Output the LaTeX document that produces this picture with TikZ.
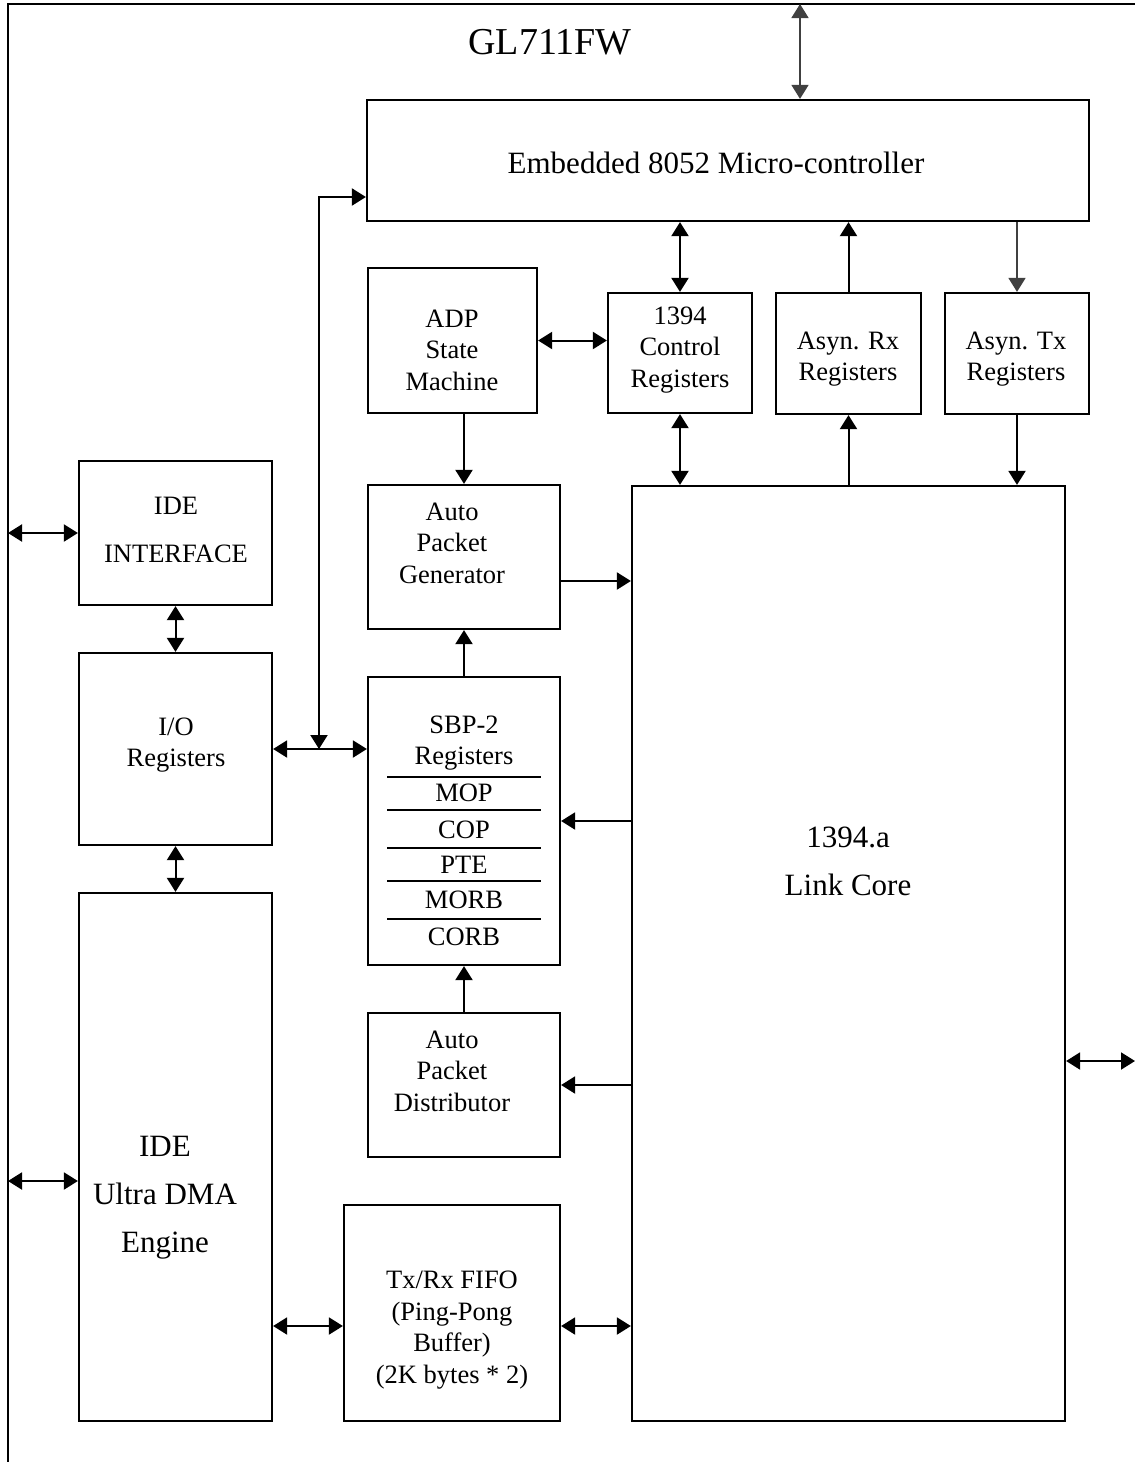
\documentclass[tikz,border=0pt]{standalone}
\usepackage{fontspec}
\setmainfont{Liberation Serif}
\usetikzlibrary{arrows.meta}

\tikzset{
	blk/.style={draw, line width=2.2pt, inner sep=0pt},
	txt/.style={align=center, inner sep=0pt, font=\fontsize{26.5}{31.5}\selectfont},
	bigtxt/.style={align=center, inner sep=0pt, font=\fontsize{31}{48}\selectfont},
	tip/.style={Triangle[length=14pt,width=17pt]},
	arr/.style={line width=2pt, -{Triangle[length=14pt,width=17pt]}},
	darr/.style={line width=2pt, {Triangle[length=14pt,width=17pt]}-{Triangle[length=14pt,width=17pt]}},
	thin/.style={line width=1.6pt, draw=black!75},
}

\begin{document}
\begin{tikzpicture}[x=1pt, y=-1pt]
	\useasboundingbox (0,0) rectangle (1135,1462);
	\draw[line width=2.2pt] (8,1462) -- (8,4) -- (1135,4);
	\node[font=\fontsize{38}{40}\selectfont, inner sep=0pt] (title) at (550,42) {GL711FW};

	% boxes
	\node[blk, minimum width=722pt, minimum height=121pt] (micro) at (728,160.5) {};
	\node[bigtxt] (microtxt) at (716,163) {Embedded 8052 Micro-controller};
	\node[blk, minimum width=169pt, minimum height=145pt] (adp) at (452.5,340.5) {};
	\node[txt] (adptxt) at (452,350) {ADP\\State\\Machine};
	\node[blk, minimum width=144pt, minimum height=120pt] (ctrl) at (680,353) {};
	\node[txt] (ctrltxt) at (680,350) {1394\\Control\\Registers};
	\node[blk, minimum width=145pt, minimum height=121pt] (rx) at (848.5,353.5) {};
	\node[txt] (rxtxt) at (848,359) {Asyn. Rx\\Registers};
	\node[blk, minimum width=144pt, minimum height=121pt] (tx) at (1017,353.5) {};
	\node[txt] (txtxt) at (1016,359) {Asyn. Tx\\Registers};
	\node[blk, minimum width=433pt, minimum height=935pt] (link) at (848.5,953.5) {};
	\node[bigtxt] (linktxt) at (848,861) {1394.a\\Link Core};
	\node[blk, minimum width=192pt, minimum height=144pt] (apg) at (464,557) {};
	\node[txt] (apgtxt) at (452,543) {Auto\\Packet\\Generator};
	\node[blk, minimum width=192pt, minimum height=288pt] (sbp) at (464,821) {};
	\node[txt] (sbptxt) at (464,743) {SBP-2\\Registers};
	\foreach \y/\reg in {793/MOP, 830/COP, 865/PTE, 900/MORB, 937/CORB}
		\node[txt] (sbp-\reg) at (464,\y) {\reg};
	\foreach \y in {777, 810, 848, 881, 919}
		\draw[line width=2pt] (387,\y) -- (541,\y);
	\node[blk, minimum width=192pt, minimum height=144pt] (apd) at (464,1085) {};
	\node[txt] (apdtxt) at (452,1071) {Auto\\Packet\\Distributor};
	\node[blk, minimum width=216pt, minimum height=216pt] (fifo) at (452,1313) {};
	\node[txt] (fifotxt) at (452,1330) {Tx/Rx FIFO\\(Ping-Pong\\Buffer)\\(2K bytes * 2)};
	\node[blk, minimum width=193pt, minimum height=144pt] (ide) at (175.5,533) {};
	\node[txt, font=\fontsize{26.5}{48}\selectfont] (idetxt) at (176,530) {IDE\\INTERFACE};
	\node[blk, minimum width=193pt, minimum height=192pt] (io) at (175.5,749) {};
	\node[txt] (iotxt) at (176,745) {I/O\\Registers};
	\node[blk, minimum width=193pt, minimum height=528pt] (dma) at (175.5,1157) {};
	\node[bigtxt] (dmatxt) at (165,1198) {IDE\\Ultra DMA\\Engine};

	% connectors
	\coordinate (ext) at (800,4);
	\coordinate (bustop) at (319,197);
	\coordinate (busbot) at (319,749);
	\coordinate (lft) at (8,1181);
	\coordinate (rgt) at (1135,1061);
	\coordinate (apgy) at (0,581);
	\coordinate (fifoy) at (0,1326);
	\draw[darr, thin] (ext) -- (ext |- micro.north);
	\draw[darr] (bustop -| micro.west) -- (bustop) -- (busbot);
	\draw[darr] (io.east) -- (io.east -| sbp.west);
	\draw[darr] (ide.west) -- (ide.west -| lft);
	\draw[darr] (lft) -- (lft -| dma.west);
	\draw[darr] (ide.south) -- (io.north);
	\draw[darr] (io.south) -- (dma.north);
	\draw[darr] (fifoy -| dma.east) -- (fifoy -| fifo.west);
	\draw[darr] (fifoy -| fifo.east) -- (fifoy -| link.west);
	\draw[darr] (adp.east) -- (adp.east -| ctrl.west);
	\draw[darr] (ctrl.north) -- (ctrl.north |- micro.south);
	\draw[darr] (ctrl.south) -- (ctrl.south |- link.north);
	\draw[arr] (rx.north) -- (rx.north |- micro.south);
	\draw[arr] (rx.south |- link.north) -- (rx.south);
	\draw[arr, thin] (tx.north |- micro.south) -- (tx.north);
	\draw[arr] (tx.south) -- (tx.south |- link.north);
	\draw[arr] (apg.north |- adp.south) -- (apg.north);
	\draw[arr] (apgy -| apg.east) -- (apgy -| link.west);
	\draw[arr] (sbp.north) -- (apg.south);
	\draw[arr] (apd.north) -- (sbp.south);
	\draw[arr] (sbp.east -| link.west) -- (sbp.east);
	\draw[arr] (apd.east -| link.west) -- (apd.east);
	\draw[darr] (rgt -| link.east) -- (rgt);
\end{tikzpicture}
\end{document}
